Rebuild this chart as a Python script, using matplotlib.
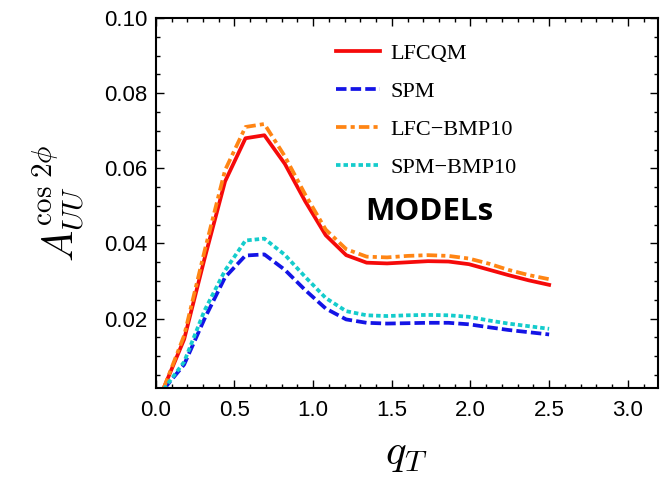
import matplotlib
matplotlib.use("Agg")
import matplotlib.pyplot as plt
from matplotlib.ticker import MultipleLocator, FormatStrFormatter

plt.rcParams['mathtext.fontset'] = 'cm'

# transverse momentum grid
q_T = [0.05, 0.18, 0.31, 0.44, 0.57, 0.69, 0.82, 0.95, 1.08, 1.21,
       1.34, 1.47, 1.60, 1.73, 1.86, 1.99, 2.12, 2.24, 2.37, 2.50]

lfcqm = [0.0015, 0.0145, 0.0360, 0.0565, 0.0680, 0.0688, 0.0612, 0.0512, 0.0422, 0.0369,
         0.0349, 0.0347, 0.0350, 0.0353, 0.0352, 0.0345, 0.0330, 0.0316, 0.0302, 0.0290]
spm = [0.0012, 0.0078, 0.0200, 0.0310, 0.0368, 0.0371, 0.0330, 0.0276, 0.0227, 0.0198,
       0.0189, 0.0187, 0.0188, 0.0189, 0.0189, 0.0185, 0.0177, 0.0170, 0.0164, 0.0158]
lfc_bmp10 = [0.0015, 0.0155, 0.0380, 0.0595, 0.0710, 0.0718, 0.0632, 0.0530, 0.0437, 0.0385,
             0.0365, 0.0363, 0.0367, 0.0369, 0.0367, 0.0360, 0.0346, 0.0330, 0.0316, 0.0305]
spm_bmp10 = [0.0012, 0.0085, 0.0222, 0.0328, 0.0408, 0.0413, 0.0370, 0.0311, 0.0255, 0.0220,
             0.0209, 0.0207, 0.0209, 0.0210, 0.0209, 0.0205, 0.0195, 0.0187, 0.0180, 0.0173]

fig = plt.figure(figsize=(6.63, 4.86), dpi=100)
ax = fig.add_axes([0.235, 0.202, 0.757, 0.761])

lw = 2.7
ax.plot(q_T, lfcqm, color='#f50a0a', lw=lw, label='LFCQM')
ax.plot(q_T, spm, color='#1414e6', lw=lw, ls=(0, (2.8, 1.1)), label='SPM')
ax.plot(q_T, lfc_bmp10, color='#ff8514', lw=lw, ls=(0, (2.8, 1.1, 1.1, 1.1)), label='LFC\u2212BMP10')
ax.plot(q_T, spm_bmp10, color='#14cccc', lw=lw, ls=(0, (1.2, 0.8)), label='SPM\u2212BMP10')

ax.set_xlim(0, 3.19)
ax.set_ylim(0.0016, 0.10)
ax.xaxis.set_major_locator(MultipleLocator(0.5))
ax.xaxis.set_minor_locator(MultipleLocator(0.1))
ax.set_yticks([0.02, 0.04, 0.06, 0.08, 0.10])
ax.yaxis.set_minor_locator(MultipleLocator(0.005))
ax.xaxis.set_major_formatter(FormatStrFormatter('%.1f'))
ax.yaxis.set_major_formatter(FormatStrFormatter('%.2f'))

ax.tick_params(which='both', direction='in', top=True, right=True, width=1.0)
ax.tick_params(which='major', length=6, labelsize=16, pad=6)
ax.tick_params(axis='x', which='major', pad=9)
ax.tick_params(which='minor', length=3)
for lab in ax.get_xticklabels() + ax.get_yticklabels():
    lab.set_family('Liberation Sans')
for sp in ax.spines.values():
    sp.set_linewidth(1.5)

ax.set_xlabel(r'$q_T$', fontsize=31, labelpad=8)
ax.set_ylabel(r'$A_{UU}^{\cos\,2\phi}$', fontsize=30, labelpad=12)

leg = ax.legend(loc='upper left', bbox_to_anchor=(0.319, 0.985), frameon=False,
                handlelength=2.0, handletextpad=0.45, labelspacing=0.785,
                prop={'family': 'Liberation Serif', 'size': 16})

ax.text(0.545, 0.476, 'MODELs', transform=ax.transAxes, fontsize=22.5,
        fontweight='bold', family='Open Sans', ha='center', va='center')

fig.savefig('out.png', dpi=100)
